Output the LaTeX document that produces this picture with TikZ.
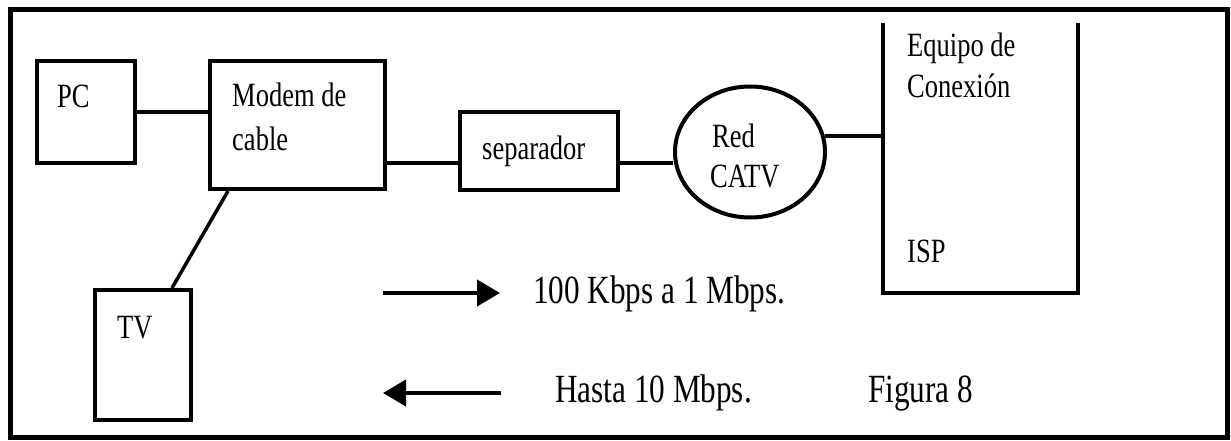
\documentclass[tikz,border=0pt]{standalone}
\usepackage{fontspec}
\setmainfont{Liberation Serif}[FakeStretch=0.78]
\usetikzlibrary{shapes.geometric,arrows.meta}
\begin{document}
\begin{tikzpicture}[x=1pt,y=-1pt,
  box/.style={draw,line width=4pt,rectangle,inner sep=0pt},
  conn/.style={line width=3.5pt},
  lbl/.style={inner sep=0pt,anchor=base west,font=\fontsize{34}{37}\selectfont},
  big/.style={inner sep=0pt,anchor=base west,font=\fontsize{40}{43}\selectfont},
  flow/.style={line width=4pt,-{Triangle[length=23pt,width=26pt]}}]
\useasboundingbox (0,0) rectangle (1231,441);
\draw[line width=5pt] (10,10) rectangle (1227,437);
% boxes
\node[box,minimum width=98pt,minimum height=102pt] (pc) at (86,112) {};
\node[box,minimum width=175pt,minimum height=128pt] (modem) at (297.5,125) {};
\node[box,minimum width=96pt,minimum height=130pt] (tv) at (143,355) {};
\node[box,minimum width=158pt,minimum height=78pt] (sep) at (539,151) {};
\node[draw,ellipse,line width=4pt,minimum width=150pt,minimum height=131pt,inner sep=0pt] (red) at (750,152) {};
\node[rectangle,inner sep=0pt,minimum width=195pt,minimum height=270pt] (isp) at (980.5,158) {};
\draw[line width=4pt] (isp.north west) -- (isp.south west) -- (isp.south east) -- (isp.north east);
% labels
\node[lbl] (tpc) at (57,108) {PC};
\node[lbl] (tmodem1) at (232,107) {Modem de};
\node[lbl] (tmodem2) at (232,150) {cable};
\node[lbl] (ttv) at (117,338) {TV};
\node[lbl] (tsep) at (482,159) {separador};
\node[lbl] (tred1) at (712,147) {Red};
\node[lbl] (tred2) at (710,187) {CATV};
\node[lbl] (tisp1) at (907,57) {Equipo de};
\node[lbl] (tisp2) at (907,98) {Conexión};
\node[lbl] (tisp3) at (907,262) {ISP};
\node[big] (up) at (533,303) {100 Kbps a 1 Mbps.};
\node[big] (down) at (555,402) {Hasta 10 Mbps.};
\node[big] (fig) at (868,402) {Figura 8};
% connectors
\draw[conn] (pc.east) -- (pc.east -| modem.west);
\draw[conn] ([xshift=20pt]modem.south west) -- ([xshift=79pt]tv.north west);
\draw[line width=4.5pt] ([yshift=-12pt]sep.west -| modem.east) -- ([yshift=-12pt]sep.west);
\draw[conn] ([yshift=-12pt]sep.east) -- ([yshift=-12pt]sep.east -| red.west);
\draw[conn] (red.12) -- (red.12 -| isp.west);
% arrows
\coordinate (r1) at (383,293);
\coordinate (r2) at (500,293);
\coordinate (l1) at (501,393);
\coordinate (l2) at (383,393);
\draw[flow] (r1) -- (r2);
\draw[flow] (l1) -- (l2);
\end{tikzpicture}
\end{document}
